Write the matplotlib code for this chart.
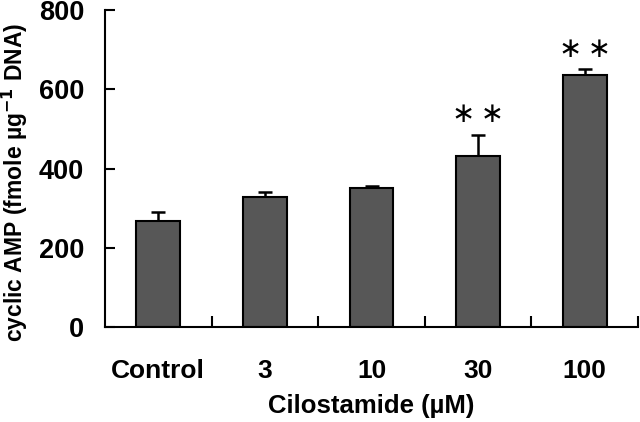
import matplotlib.pyplot as plt
import numpy as np

# Datos
categorias = ['Control', '3', '10', '30', '100']
camp_media = [268, 328, 351, 432, 636]
camp_error = [22, 13, 4, 53, 15]
significancia = ['', '', '', '\u2217\u2009\u2217', '\u2217\u2009\u2217']

plt.rcParams['font.family'] = ['Liberation Sans', 'DejaVu Sans']

fig = plt.figure(figsize=(6.4, 4.22), dpi=100)
ax = fig.add_axes([0.164, 0.225, 0.833, 0.751])

x = np.arange(len(categorias))
ax.bar(x, camp_media, width=0.41, color='#575757', edgecolor='black', linewidth=1.5, zorder=2)
ax.errorbar(x, camp_media, yerr=[np.zeros(len(x)), camp_error], fmt='none',
            ecolor='black', elinewidth=1.8, capsize=5, capthick=1.8, zorder=1)

# asteriscos de significancia encima de las barras de error
for xi, m, e, s in zip(x, camp_media, camp_error, significancia):
    if s:
        ax.text(xi, m + e + 52, s, ha='center', va='center', fontsize=20,
                family='DejaVu Sans')

ax.set_xlim(-0.5, len(categorias) - 0.5)
ax.set_ylim(0, 800)
ax.set_yticks([0, 200, 400, 600, 800])

ax.set_xticks(x)
ax.set_xticklabels(categorias, fontsize=19, fontweight='bold')
ax.set_xticks(np.arange(len(categorias)) + 0.5, minor=True)
ax.tick_params(axis='x', which='major', length=0, pad=23)
ax.tick_params(axis='x', which='minor', direction='in', length=8, width=1.5)
ax.tick_params(axis='y', direction='in', length=7, width=1.5, pad=15, labelsize=19.5)
for t in ax.get_yticklabels():
    t.set_fontweight('bold')

ax.spines['top'].set_visible(False)
ax.spines['right'].set_visible(False)
ax.spines['left'].set_linewidth(1.5)
ax.spines['bottom'].set_linewidth(1.5)

ax.set_xlabel('Cilostamide (\u00b5M)', fontsize=18.5, fontweight='bold', labelpad=8)
ax.set_ylabel('cyclic AMP (fmole \u00b5g$^{\\mathbf{-1}}$ DNA)', fontsize=16.5,
              fontweight='bold')
ax.yaxis.set_label_coords(-0.14, 0.455)

fig.savefig('out.png', dpi=100)
